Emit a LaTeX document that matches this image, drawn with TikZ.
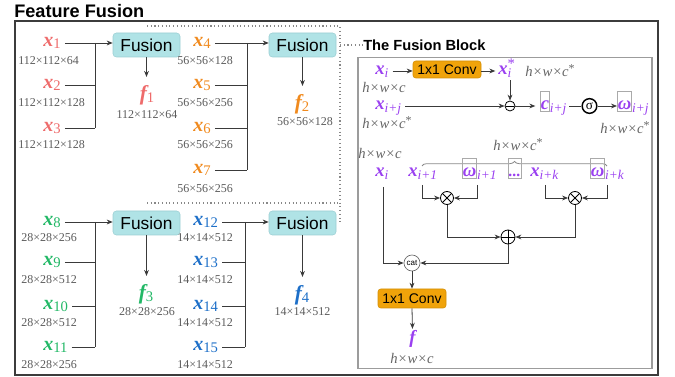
\documentclass[tikz,border=0pt]{standalone}
\usepackage{fontspec}
\setmainfont{Liberation Serif}
\setsansfont{Liberation Sans}
\newfontfamily\tms{Liberation Serif}
\usetikzlibrary{arrows.meta,decorations.pathreplacing}
\definecolor{cred}{HTML}{EE6B6B}
\definecolor{corange}{HTML}{F08A1E}
\definecolor{cgreen}{HTML}{22B866}
\definecolor{cblue}{HTML}{1D6FC8}
\definecolor{cpurp}{HTML}{9A40F0}
\definecolor{dimgray}{HTML}{5A5A5A}
\definecolor{hgray}{HTML}{666666}
\definecolor{fusfill}{HTML}{B0E3E6}
\definecolor{fusedge}{HTML}{9CCFD3}
\definecolor{convfill}{HTML}{F0A30A}
\definecolor{convedge}{HTML}{D38F08}
\definecolor{lin}{HTML}{3A3A3A}
\definecolor{boxgray}{HTML}{AAAAAA}
\definecolor{outerc}{HTML}{3C3C3C}
\definecolor{innerc}{HTML}{9C9C9C}
\definecolor{dotc}{HTML}{888888}
\newcommand\sbs[1]{\raisebox{-2pt}{\mdseries\upshape\fontsize{11}{11}\selectfont #1}}
\newcommand\sbi[1]{\raisebox{-2.5pt}{\mdseries\itshape\fontsize{10}{10}\selectfont #1}}
\newcommand\gb[1]{{\setlength\fboxsep{0pt}\setlength\fboxrule{0.5pt}\color{boxgray}\fbox{\color{cpurp}\rule[-1.5pt]{0pt}{14.5pt}#1}}}
\newcommand\hsup{\raisebox{3.5pt}{\upshape\fontsize{9}{9}\selectfont *}}
\begin{document}
\begin{tikzpicture}[x=0.75pt,y=-0.75pt,
  conn/.style={draw=lin, line width=0.6pt},
  arr/.style={conn, -{Stealth[length=4.5pt,width=3.6pt]}},
  lab/.style={inner sep=0pt, anchor=mid west, font=\tms\bfseries\itshape\fontsize{15}{15}\selectfont},
  labf/.style={inner sep=0pt, font=\tms\bfseries\itshape\fontsize{16}{16}\selectfont},
  lab2/.style={inner sep=0pt, anchor=mid west, text=cpurp, font=\tms\bfseries\itshape\fontsize{14}{14}\selectfont},
  dimt/.style={inner sep=0pt, text=dimgray, font=\tms\fontsize{9}{9}\selectfont},
  hw/.style={inner sep=0pt, anchor=base west, text=hgray, font=\tms\itshape\fontsize{11}{11}\selectfont},
  fus/.style={draw=fusedge, fill=fusfill, rounded corners=2.5pt, minimum width=50.25pt, minimum height=18pt, inner sep=0pt, font=\sffamily\fontsize{13}{13}\selectfont},
  convbox/.style={draw=convedge, fill=convfill, rounded corners=2pt, minimum width=51pt, inner sep=0pt, font=\sffamily\fontsize{10.5}{10.5}\selectfont},
  opc/.style={circle, draw=black, line width=0.6pt, inner sep=0pt},
  otimes/.style={opc, minimum size=9.75pt, path picture={\draw[line width=0.6pt] (path picture bounding box.north west) -- (path picture bounding box.south east) (path picture bounding box.north east) -- (path picture bounding box.south west);}},
  oplus/.style={opc, minimum size=10.5pt, path picture={\draw[line width=0.6pt] (path picture bounding box.north) -- (path picture bounding box.south) (path picture bounding box.west) -- (path picture bounding box.east);}},
  dotl/.style={draw=dotc, dotted, line width=0.8pt},
]
\useasboundingbox (0,0) rectangle (675,377);
% frames
\draw[draw=outerc, line width=1.5pt] (15,21) rectangle (658,375);
\draw[draw=innerc, line width=1.1pt] (358,57.5) rectangle (652,368.5);
\node[anchor=west, inner sep=0pt, font=\sffamily\bfseries\fontsize{13.6}{13.6}\selectfont] (title) at (14,11) {Feature Fusion};
\node[anchor=west, inner sep=0pt, font=\sffamily\bfseries\fontsize{11}{11}\selectfont] (btitle) at (363,45) {The Fusion Block};
\draw[dotl] (147,26) -- (340,26) -- (340,222);
\draw[dotl] (147,203) -- (340,203);
\draw[dotl] (340,45) -- (btitle.west);

% ---------- group 1
\node[lab, text=cred] (x1) at (43,43) {x\sbs{1}};
\node[lab, text=cred] (x2) at (43,85) {x\sbs{2}};
\node[lab, text=cred] (x3) at (43,128) {x\sbs{3}};
\node[dimt, anchor=west] (d1) at (18,61) {112×112×64};
\node[dimt, anchor=west] (d2) at (18,103) {112×112×128};
\node[dimt, anchor=west] (d3) at (18,145) {112×112×128};
\node[fus] (F1) at (146.5,45) {Fusion};
\node[labf, text=cred] (f1) at (147,95) {f\sbs{1}};
\node[dimt] (df1) at (147,115) {112×112×64};
\coordinate (b1) at (95,43);
\draw[arr] ([xshift=3pt]x1.mid east) -- (x1.mid east -| F1.west);
\draw[conn] ([xshift=3pt]x2.mid east) -- (x2.mid east -| b1);
\draw[conn] ([xshift=3pt]x3.mid east) -- (x3.mid east -| b1);
\draw[conn] (b1) -- (b1 |- x3.mid east);
\draw[arr, shorten >=6pt] (F1.south) -- (F1.south |- f1.north);

% ---------- group 2
\node[lab, text=corange] (x4) at (193,43) {x\sbs{4}};
\node[lab, text=corange] (x5) at (193,85) {x\sbs{5}};
\node[lab, text=corange] (x6) at (193,128) {x\sbs{6}};
\node[lab, text=corange] (x7) at (193,170) {x\sbs{7}};
\node[dimt, anchor=west] (d4) at (177,61) {56×56×128};
\node[dimt, anchor=west] (d5) at (177,103) {56×56×256};
\node[dimt, anchor=west] (d6) at (177,145) {56×56×256};
\node[dimt, anchor=west] (d7) at (177,189) {56×56×256};
\node[fus] (F2) at (302.5,45) {Fusion};
\node[labf, text=corange] (f2) at (302,104) {f\sbs{2}};
\node[dimt] (df2) at (305,122) {56×56×128};
\coordinate (b2) at (247,43);
\draw[arr] ([xshift=3pt]x4.mid east) -- (x4.mid east -| F2.west);
\draw[conn] ([xshift=3pt]x5.mid east) -- (x5.mid east -| b2);
\draw[conn] ([xshift=3pt]x6.mid east) -- (x6.mid east -| b2);
\draw[conn] ([xshift=3pt]x7.mid east) -- (x7.mid east -| b2);
\draw[conn] (b2) -- (b2 |- x7.mid east);
\draw[arr, shorten >=6pt] (F2.south) -- (F2.south |- f2.north);

% ---------- group 3
\node[lab, text=cgreen] (x8) at (43,222) {x\sbs{8}};
\node[lab, text=cgreen] (x9) at (43,262) {x\sbs{9}};
\node[lab, text=cgreen] (x10) at (43,306) {x\sbs{10}};
\node[lab, text=cgreen] (x11) at (43,347) {x\sbs{11}};
\node[dimt, anchor=west] (d8) at (21,238) {28×28×256};
\node[dimt, anchor=west] (d9) at (21,280) {28×28×512};
\node[dimt, anchor=west] (d10) at (21,323) {28×28×512};
\node[dimt, anchor=west] (d11) at (21,365) {28×28×256};
\node[fus] (F3) at (146.5,223) {Fusion};
\node[labf, text=cgreen] (f3) at (146,294) {f\sbs{3}};
\node[dimt] (df3) at (147,312) {28×28×256};
\coordinate (b3) at (95,222);
\draw[arr] ([xshift=3pt]x8.mid east) -- (x8.mid east -| F3.west);
\draw[conn] ([xshift=3pt]x9.mid east) -- (x9.mid east -| b3);
\draw[conn] ([xshift=3pt]x10.mid east) -- (x10.mid east -| b3);
\draw[conn] ([xshift=3pt]x11.mid east) -- (x11.mid east -| b3);
\draw[conn] (b3) -- (b3 |- x11.mid east);
\draw[arr, shorten >=6pt] (F3.south) -- (F3.south |- f3.north);

% ---------- group 4
\node[lab, text=cblue] (x12) at (193,222) {x\sbs{12}};
\node[lab, text=cblue] (x13) at (193,262) {x\sbs{13}};
\node[lab, text=cblue] (x14) at (193,306) {x\sbs{14}};
\node[lab, text=cblue] (x15) at (193,347) {x\sbs{15}};
\node[dimt, anchor=west] (d12) at (177,238) {14×14×512};
\node[dimt, anchor=west] (d13) at (177,280) {14×14×512};
\node[dimt, anchor=west] (d14) at (177,323) {14×14×512};
\node[dimt, anchor=west] (d15) at (177,365) {14×14×512};
\node[fus] (F4) at (302.5,223) {Fusion};
\node[labf, text=cblue] (f4) at (302,295) {f\sbs{4}};
\node[dimt] (df4) at (302.5,312) {14×14×512};
\coordinate (b4) at (245,222);
\draw[arr] ([xshift=3pt]x12.mid east) -- (x12.mid east -| F4.west);
\draw[conn] ([xshift=3pt]x13.mid east) -- (x13.mid east -| b4);
\draw[conn] ([xshift=3pt]x14.mid east) -- (x14.mid east -| b4);
\draw[conn] ([xshift=3pt]x15.mid east) -- (x15.mid east -| b4);
\draw[conn] (b4) -- (b4 |- x15.mid east);
\draw[arr, shorten >=6pt] (F4.south) -- (F4.south |- f4.north);

% ---------- fusion block
\node[lab2] (xa) at (375,71) {x\sbi{i}};
\node[hw] (hwa) at (362,93) {h×w×c};
\node[convbox, minimum height=12.75pt] (cv1) at (447,69.5) {1x1 Conv};
\node[lab2] (xs) at (498,71) {x\rlap{\raisebox{4pt}{\mdseries\upshape\fontsize{11}{11}\selectfont *}}\sbi{i}};
\node[hw] (hwb) at (525,77) {h×w×c\hsup};
\node[lab2] (xij) at (375,106) {x\sbi{i+j}};
\node[hw] (hwc2) at (362,129) {h×w×c\hsup};
\node[opc, minimum size=7.5pt, path picture={\draw[line width=0.6pt] ([xshift=1pt]path picture bounding box.west) -- ([xshift=-1pt]path picture bounding box.east);}] (mn) at (510,106) {};
\node[lab2] (cij) at (540,106) {\gb{c}\sbi{i+j}};
\node[opc, line width=1.1pt, minimum size=11pt, font=\tms\fontsize{10}{10}\selectfont] (sg) at (589.5,106) {σ};
\node[lab2] (wij) at (617,106) {\gb{ω}\sbi{i+j}};
\node[hw] (hwc3) at (600,134) {h×w×c\hsup};

\draw[arr] ([xshift=3pt]xa.mid east) -- (xa.mid east -| cv1.west);
\draw[arr] (cv1.east |- xs.mid west) -- ([xshift=-2pt]xs.mid west);
\draw[arr, shorten <=2pt] (xs.south -| mn) -- (mn.north);
\draw[arr] ([xshift=3pt]xij.mid east) -- (mn.west);
\draw[arr] (mn.east) -- ([xshift=-3.5pt]cij.mid west);
\draw[conn] ([xshift=2pt]cij.mid east) -- (sg.west);
\draw[arr] (sg.east) -- (wij.mid west);

\node[hw] (hwc4) at (493,151) {h×w×c\hsup};
\draw[draw=dotc, line width=0.6pt, decorate, decoration={brace, amplitude=3.5pt}] (422,166) -- (607,166);
\node[hw] (hwc5) at (358,159) {h×w×c};
\node[lab2] (xb) at (375,173) {x\sbi{i}};
\node[lab2] (xp1) at (408,173) {x\sbi{i+1}};
\node[lab2] (wp1) at (462,173) {\gb{ω}\sbi{i+1}};
\node[lab2] (dts) at (508,173) {\gb{\fontsize{12}{12}\selectfont ...}};
\node[lab2] (xk) at (530,173) {x\sbi{i+k}};
\node[lab2] (wk) at (590,173) {\gb{ω}\sbi{i+k}};
\node[otimes] (ot1) at (447,198) {};
\node[otimes] (ot2) at (575,198) {};
\node[oplus] (op) at (508,237) {};
\node[circle, draw=hgray, line width=0.5pt, minimum size=12pt, inner sep=0pt, font=\sffamily\fontsize{6}{6}\selectfont] (cat) at (412,263) {cat};
\node[convbox, minimum height=14.25pt] (cv2) at (412,298.5) {1x1 Conv};
\node[lab2, anchor=center] (fo) at (412.5,339) {f};
\node[hw] (hwc6) at (390,364) {h×w×c};

\coordinate (s1) at (422,185);
\coordinate (s2) at (477,185);
\coordinate (s3) at (545,185);
\coordinate (s4) at (607,185);
\coordinate (s5) at (383,187);
\draw[arr] (s1) |- (ot1.west);
\draw[arr] (s2) |- (ot1.east);
\draw[arr] (s3) |- (ot2.west);
\draw[arr] (s4) |- (ot2.east);
\draw[arr] (ot1.south) |- (op.west);
\draw[arr] (ot2.south) |- (op.east);
\draw[arr] (s5) |- (cat.west);
\draw[arr] (op.south) |- (cat.east);
\draw[arr] (cat.south) -- (cv2.north);
\draw[arr, shorten >=1pt] (cv2.south) -- (fo.north);
\end{tikzpicture}
\end{document}
